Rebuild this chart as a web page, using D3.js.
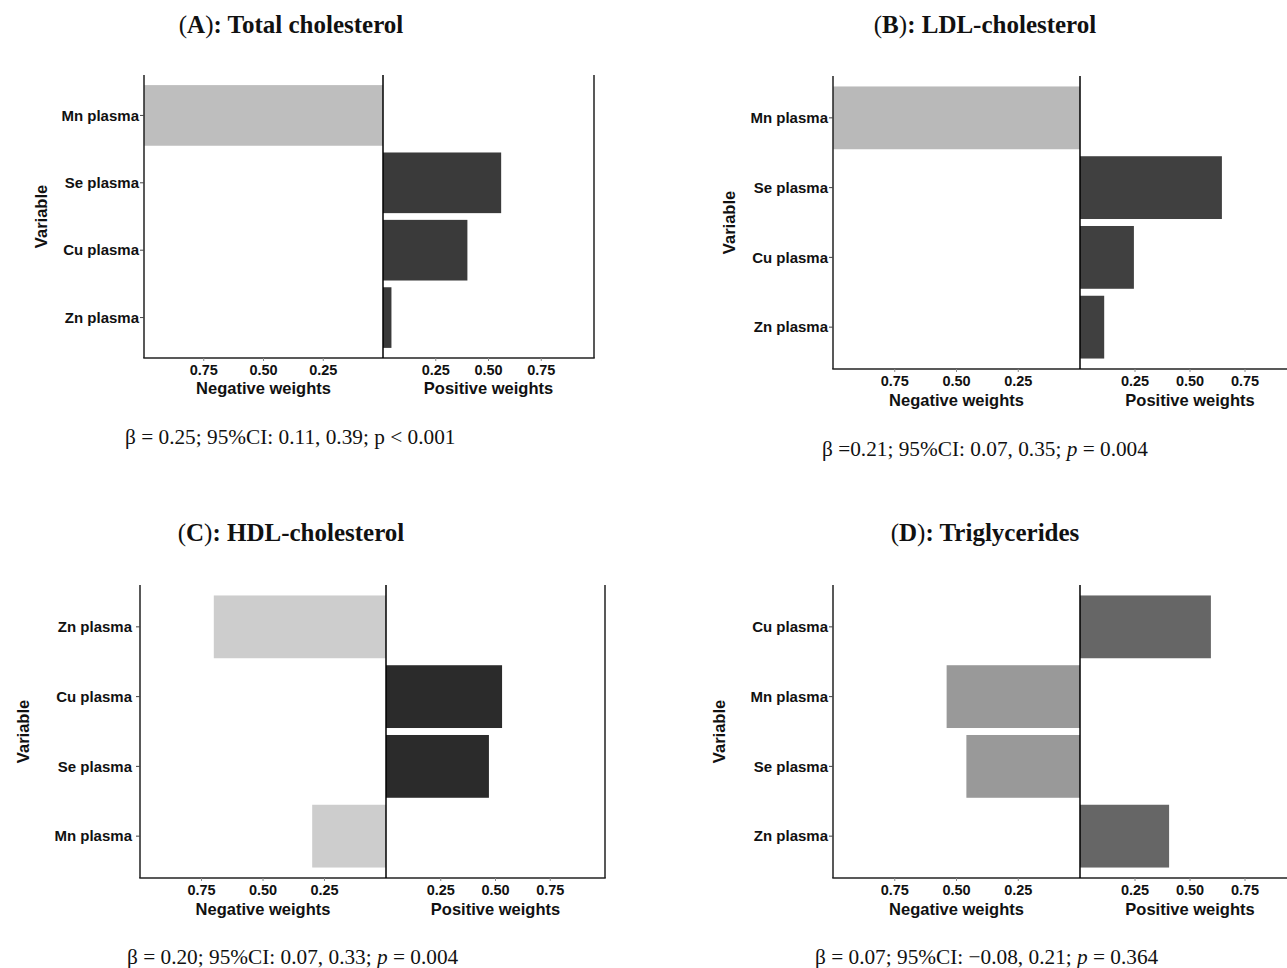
<!DOCTYPE html>
<html>
<head>
<meta charset="utf-8">
<script src="https://cdn.jsdelivr.net/npm/d3@7"></script>
<style>
  html, body { margin: 0; padding: 0; background: #fff; }
  svg { display: block; }
</style>
</head>
<body>
<script>
// ---------- data ----------
const tickValues = [0.25, 0.50, 0.75];
const tickLabels = ["0.25", "0.50", "0.75"];

const catsA = ["Mn plasma", "Se plasma", "Cu plasma", "Zn plasma"];
const negA  = [1.00, 0, 0, 0];
const posA  = [0, 0.56, 0.40, 0.04];

const catsB = ["Mn plasma", "Se plasma", "Cu plasma", "Zn plasma"];
const negB  = [1.00, 0, 0, 0];
const posB  = [0, 0.645, 0.245, 0.11];

const catsC = ["Zn plasma", "Cu plasma", "Se plasma", "Mn plasma"];
const negC  = [0.70, 0, 0, 0.30];
const posC  = [0, 0.53, 0.47, 0];

const catsD = ["Cu plasma", "Mn plasma", "Se plasma", "Zn plasma"];
const negD  = [0, 0.54, 0.46, 0];
const posD  = [0.595, 0, 0, 0.405];

const titles = ["Total cholesterol", "LDL-cholesterol", "HDL-cholesterol", "Triglycerides"];
const letters = ["A", "B", "C", "D"];
const statsText = [
  [["β = 0.25; 95%CI: 0.11, 0.39; p < 0.001", false]],
  [["β =0.21; 95%CI: 0.07, 0.35; ", false], ["p", true], [" = 0.004", false]],
  [["β = 0.20; 95%CI: 0.07, 0.33; ", false], ["p", true], [" = 0.004", false]],
  [["β = 0.07; 95%CI: \u22120.08, 0.21; ", false], ["p", true], [" = 0.364", false]]
];

// ---------- layout ----------
const W = 1287, H = 968;
const svg = d3.select("body").append("svg").attr("width", W).attr("height", H);

const panels = [
  { cats: catsA, neg: negA, pos: posA, left: 144, top: 75, bottom: 358, center: 383, right: 594,
    negCol: "#bebebe", posCol: "#3a3a3a", labGap: 5, tickY: 375, axTitleY: 394, varX: 41,
    titleX: 291, titleY: 33, statX: 125, statY: 444 },
  { cats: catsB, neg: negB, pos: posB, left: 833, top: 76, bottom: 369, center: 1080, right: 1300,
    negCol: "#b9b9b9", posCol: "#404040", labGap: 5, tickY: 386, axTitleY: 406, varX: 729,
    titleX: 985, titleY: 33, statX: 822, statY: 456 },
  { cats: catsC, neg: negC, pos: posC, left: 140, top: 585, bottom: 878, center: 386, right: 605,
    negCol: "#cdcdcd", posCol: "#2b2b2b", labGap: 8, tickY: 895, axTitleY: 915, varX: 23,
    titleX: 291, titleY: 541, statX: 127, statY: 964 },
  { cats: catsD, neg: negD, pos: posD, left: 833, top: 585, bottom: 878, center: 1080, right: 1300,
    negCol: "#999999", posCol: "#666666", labGap: 5, tickY: 895, axTitleY: 915, varX: 719,
    titleX: 985, titleY: 541, statX: 815, statY: 964 }
];

const sans = "'Liberation Sans', Arial, sans-serif";
const serif = "'Liberation Serif', 'Times New Roman', serif";
const axisCol = "#222";

panels.forEach((p, i) => {
  const g = svg.append("g");
  const y = d3.scaleBand().domain(p.cats).range([p.top, p.bottom])
    .paddingInner(0.1).paddingOuter(0.15);
  const xNeg = d3.scaleLinear().domain([1, 0]).range([p.left, p.center]);
  const xPos = d3.scaleLinear().domain([0, 1]).range([p.center, p.right]);

  const rows = p.cats.map((c, k) => ({ cat: c, neg: p.neg[k], pos: p.pos[k] }));

  // negative bars
  g.selectAll("rect.neg").data(rows.filter(d => d.neg > 0)).join("rect")
    .attr("class", "neg")
    .attr("x", d => xNeg(d.neg))
    .attr("width", d => xNeg(0) - xNeg(d.neg))
    .attr("y", d => y(d.cat))
    .attr("height", y.bandwidth())
    .attr("fill", p.negCol);

  // positive bars
  g.selectAll("rect.pos").data(rows.filter(d => d.pos > 0)).join("rect")
    .attr("class", "pos")
    .attr("x", xPos(0))
    .attr("width", d => xPos(d.pos) - xPos(0))
    .attr("y", d => y(d.cat))
    .attr("height", y.bandwidth())
    .attr("fill", p.posCol);

  // frame lines: left, bottom, center, right
  const line = (x1, y1, x2, y2, col) => g.append("line")
    .attr("x1", x1).attr("y1", y1).attr("x2", x2).attr("y2", y2)
    .attr("stroke", col || axisCol).attr("stroke-width", 1.5);
  line(p.left, p.top, p.left, p.bottom);
  line(p.left - 0.75, p.bottom, p.right + 0.75, p.bottom);
  line(p.center, p.top, p.center, p.bottom, "#000");
  line(p.right, p.top, p.right, p.bottom);

  // y axis labels and ticks
  rows.forEach(d => {
    const cy = y(d.cat) + y.bandwidth() / 2;
    g.append("line").attr("x1", p.left - 4).attr("x2", p.left).attr("y1", cy).attr("y2", cy)
      .attr("stroke", "#444").attr("stroke-width", 1);
    g.append("text").attr("x", p.left - p.labGap).attr("y", cy).attr("dy", "0.35em")
      .attr("text-anchor", "end").attr("font-family", sans).attr("font-weight", "bold")
      .attr("font-size", 15).attr("fill", "#111").text(d.cat);
  });

  // x ticks
  [[xNeg], [xPos]].forEach(([sc]) => {
    tickValues.forEach((v, k) => {
      g.append("line").attr("x1", sc(v)).attr("x2", sc(v)).attr("y1", p.bottom).attr("y2", p.bottom + 3)
        .attr("stroke", "#888").attr("stroke-width", 1);
      g.append("text").attr("x", sc(v)).attr("y", p.tickY).attr("text-anchor", "middle")
        .attr("font-family", sans).attr("font-weight", "bold").attr("font-size", 14.5)
        .attr("fill", "#111").text(tickLabels[k]);
    });
  });

  // axis titles
  g.append("text").attr("x", xNeg(0.5)).attr("y", p.axTitleY).attr("text-anchor", "middle")
    .attr("font-family", sans).attr("font-weight", "bold").attr("font-size", 16.5)
    .attr("fill", "#111").text("Negative weights");
  g.append("text").attr("x", xPos(0.5)).attr("y", p.axTitleY).attr("text-anchor", "middle")
    .attr("font-family", sans).attr("font-weight", "bold").attr("font-size", 16.5)
    .attr("fill", "#111").text("Positive weights");

  // Variable label
  const vy = (p.top + p.bottom) / 2;
  g.append("text").attr("transform", `translate(${p.varX},${vy}) rotate(-90)`)
    .attr("text-anchor", "middle").attr("dy", "0.35em")
    .attr("font-family", sans).attr("font-weight", "bold").attr("font-size", 16.5)
    .attr("fill", "#111").text("Variable");

  // panel title
  const t = g.append("text").attr("x", p.titleX).attr("y", p.titleY).attr("text-anchor", "middle")
    .attr("font-family", serif).attr("font-size", 25).attr("fill", "#111");
  t.append("tspan").text("(");
  t.append("tspan").attr("font-weight", "bold").text(letters[i]);
  t.append("tspan").text(")");
  t.append("tspan").attr("font-weight", "bold").text(": " + titles[i]);

  // stats text
  const s = g.append("text").attr("x", p.statX).attr("y", p.statY)
    .attr("font-family", serif).attr("font-size", 21.3).attr("fill", "#111");
  statsText[i].forEach(([txt, it]) => {
    s.append("tspan").attr("font-style", it ? "italic" : "normal").text(txt);
  });
});
</script>
</body>
</html>
